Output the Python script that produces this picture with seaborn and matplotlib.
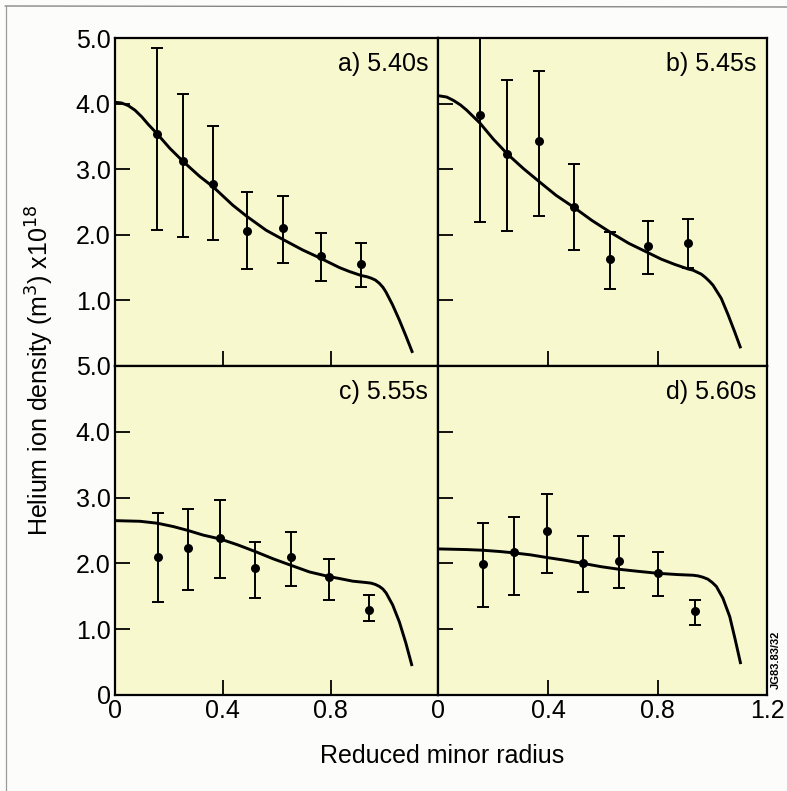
import matplotlib
matplotlib.use("Agg")
import matplotlib.pyplot as plt
import seaborn as sns
from matplotlib.lines import Line2D

sns.set_theme(style="ticks")
plt.rcParams["font.family"] = ["Liberation Sans", "DejaVu Sans"]
plt.rcParams.update({"text.color": "black", "axes.labelcolor": "black",
                     "xtick.color": "black", "ytick.color": "black"})

# ---- a) t = 5.40 s ----
r_a = [0.155, 0.253, 0.365, 0.490, 0.623, 0.764, 0.913]
n_a = [3.54, 3.13, 2.78, 2.06, 2.11, 1.68, 1.56]
lo_a = [2.08, 1.97, 1.92, 1.48, 1.57, 1.30, 1.21]
hi_a = [4.84, 4.14, 3.66, 2.66, 2.59, 2.02, 1.87]
fit_r_a = [0.0, 0.025, 0.05, 0.075, 0.10, 0.125, 0.155, 0.204, 0.253, 0.315,
           0.365, 0.438, 0.49, 0.561, 0.623, 0.696, 0.764, 0.833, 0.870,
           0.913, 0.935, 0.950, 0.966, 0.981, 0.994, 1.005, 1.030, 1.055,
           1.079, 1.104]
fit_n_a = [4.02, 4.01, 3.97, 3.90, 3.80, 3.68, 3.55, 3.32, 3.12, 2.89,
           2.73, 2.45, 2.28, 2.07, 1.93, 1.77, 1.64, 1.50, 1.44,
           1.38, 1.36, 1.34, 1.31, 1.26, 1.20, 1.13, 0.93, 0.70,
           0.46, 0.20]

# ---- b) t = 5.45 s ----
r_b = [0.152, 0.252, 0.368, 0.494, 0.627, 0.764, 0.913]
n_b = [3.83, 3.23, 3.43, 2.42, 1.63, 1.83, 1.87]
lo_b = [2.20, 2.06, 2.29, 1.77, 1.17, 1.41, 1.50]
hi_b = [5.46, 4.36, 4.49, 3.08, 2.04, 2.21, 2.24]
fit_r_b = [0.0, 0.03, 0.054, 0.08, 0.103, 0.152, 0.2, 0.252, 0.31, 0.368,
           0.43, 0.494, 0.56, 0.627, 0.695, 0.764, 0.813, 0.862, 0.911,
           0.930, 0.945, 0.960, 0.975, 0.990, 1.003, 1.033, 1.058, 1.082,
           1.104]
fit_n_b = [4.12, 4.10, 4.05, 3.98, 3.90, 3.70, 3.46, 3.23, 3.01, 2.81,
           2.60, 2.42, 2.22, 2.04, 1.87, 1.73, 1.63, 1.55, 1.48,
           1.46, 1.43, 1.40, 1.35, 1.29, 1.23, 1.03, 0.78, 0.52,
           0.27]

# ---- c) t = 5.55 s ----
r_c = [0.159, 0.272, 0.392, 0.521, 0.654, 0.794, 0.944]
n_c = [2.10, 2.23, 2.38, 1.93, 2.10, 1.80, 1.29]
lo_c = [1.41, 1.60, 1.78, 1.48, 1.66, 1.44, 1.12]
hi_c = [2.77, 2.82, 2.96, 2.32, 2.47, 2.07, 1.52]
fit_r_c = [0.0, 0.094, 0.159, 0.217, 0.272, 0.328, 0.392, 0.457, 0.521,
           0.587, 0.654, 0.722, 0.794, 0.833, 0.882, 0.930, 0.950, 0.966,
           0.981, 0.994, 1.006, 1.030, 1.055, 1.079, 1.102]
fit_n_c = [2.65, 2.64, 2.61, 2.56, 2.50, 2.43, 2.37, 2.28, 2.18,
           2.07, 1.97, 1.87, 1.80, 1.77, 1.73, 1.71, 1.70, 1.68,
           1.65, 1.61, 1.55, 1.37, 1.11, 0.79, 0.44]

# ---- d) t = 5.60 s ----
r_d = [0.162, 0.275, 0.395, 0.528, 0.661, 0.800, 0.938]
n_d = [1.99, 2.17, 2.49, 2.01, 2.04, 1.85, 1.28]
lo_d = [1.33, 1.52, 1.85, 1.56, 1.62, 1.50, 1.06]
hi_d = [2.62, 2.71, 3.06, 2.42, 2.41, 2.17, 1.44]
fit_r_d = [0.0, 0.104, 0.162, 0.226, 0.275, 0.336, 0.395, 0.459, 0.528,
           0.594, 0.661, 0.728, 0.80, 0.874, 0.930, 0.948, 0.966, 0.984,
           1.000, 1.015, 1.039, 1.064, 1.084, 1.104]
fit_n_d = [2.22, 2.21, 2.20, 2.18, 2.16, 2.13, 2.09, 2.05, 2.00,
           1.95, 1.91, 1.88, 1.85, 1.83, 1.82, 1.81, 1.79, 1.76,
           1.71, 1.65, 1.47, 1.19, 0.84, 0.47]

panel_titles = ["a) 5.40s", "b) 5.45s", "c) 5.55s", "d) 5.60s"]
x_ticks = [0, 0.4, 0.8, 1.2]
x_tick_labels = ["0", "0.4", "0.8", "1.2"]
y_ticks = [0, 1, 2, 3, 4, 5]
y_tick_labels = ["0", "1.0", "2.0", "3.0", "4.0", "5.0"]

panels = [
    (r_a, n_a, lo_a, hi_a, fit_r_a, fit_n_a),
    (r_b, n_b, lo_b, hi_b, fit_r_b, fit_n_b),
    (r_c, n_c, lo_c, hi_c, fit_r_c, fit_n_c),
    (r_d, n_d, lo_d, hi_d, fit_r_d, fit_n_d),
]

W, H = 787, 791
fig = plt.figure(figsize=(W / 100, H / 100), dpi=100)
fig.patch.set_facecolor("#fcfcfa")

# thin border of the page
fig.add_artist(Line2D([5 / W, 1.0], [1 - 6 / H, 1 - 7 / H], color="#7a7a7a", lw=0.9))
fig.add_artist(Line2D([6 / W, 6 / W], [1 - 6 / H, 0.0], color="#9a9a9a", lw=0.9))

x0, x1, x2 = 114.7 / W, 438.5 / W, 767.0 / W
y0, y1, y2 = 1 - 695 / H, 1 - 366 / H, 1 - 38 / H
rects = [
    [x0, y1, x1 - x0, y2 - y1],
    [x1, y1, x2 - x1, y2 - y1],
    [x0, y0, x1 - x0, y1 - y0],
    [x1, y0, x2 - x1, y1 - y0],
]

fs = 18
for i, (rect, data, title) in enumerate(zip(rects, panels, panel_titles)):
    r, n, lo, hi, fr, fn = data
    ax = fig.add_axes(rect)
    ax.set_facecolor("#f8f8cf")
    yerr = [[v - l for v, l in zip(n, lo)], [h - v for v, h in zip(n, hi)]]
    ax.errorbar(r, n, yerr=yerr, fmt="none", ecolor="black", elinewidth=1.4,
                capsize=4.5, capthick=1.4, zorder=3)
    sns.lineplot(x=fr, y=fn, ax=ax, color="black", lw=2.1, sort=False,
                 estimator=None, zorder=4)
    sns.scatterplot(x=r, y=n, ax=ax, color="black", s=42, edgecolor="black",
                    linewidth=0, zorder=5)
    for ln in ax.lines:
        ln.set_solid_capstyle("butt")
        ln.set_solid_joinstyle("round")
    ax.set_xlim(0, 1.2)
    ax.set_ylim(0, 5)
    ax.set_xlabel("")
    ax.set_ylabel("")
    for sp in ax.spines.values():
        sp.set_linewidth(1.6)
        sp.set_color("black")
    ax.tick_params(direction="in", length=11, width=1.3, color="black",
                   labelsize=fs, labelcolor="black", pad=3,
                   top=False, right=False)
    ax.set_xticks(x_ticks)
    ax.set_yticks(y_ticks)
    left = i in (0, 2)
    bottom = i in (2, 3)
    if left:
        labels = list(y_tick_labels)
        if not bottom:
            labels[0] = ""
        ax.set_yticklabels(labels)
    else:
        ax.set_yticklabels([])
    if bottom:
        labels = list(x_tick_labels)
        if left:
            labels[-1] = ""
        ax.set_xticklabels(labels)
    else:
        ax.set_xticklabels([])
    ax.text(0.968, 0.921, title, transform=ax.transAxes, ha="right", va="center",
            fontsize=fs, color="black")
    if i == 3:
        ax.text(1.012, 0.108, "JG83.83/32", transform=ax.transAxes, rotation=90,
                ha="left", va="center", fontsize=8, fontweight="bold",
                color="black")

fig.text(40 / W, 1 - 370 / H, "Helium ion density (m$^3$) x10$^{18}$",
         rotation=90, ha="center", va="center", fontsize=18, color="black")
fig.text(442 / W, 1 - 756 / H, "Reduced minor radius", ha="center",
         va="center", fontsize=18, color="black")

fig.savefig("out.png", dpi=100, facecolor=fig.get_facecolor())
